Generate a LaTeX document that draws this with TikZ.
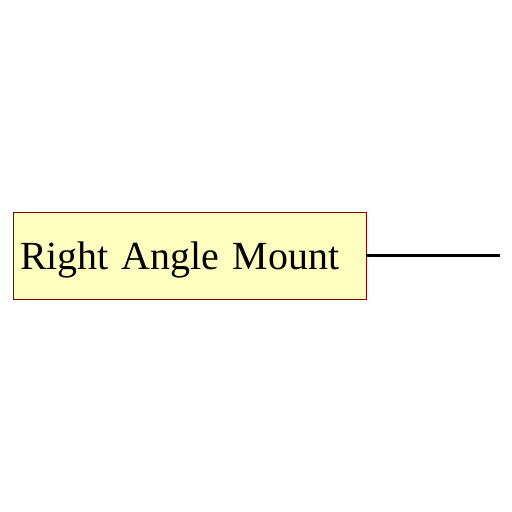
\documentclass[tikz,border=0pt]{standalone}
\usepackage{fontspec}
\setmainfont{Liberation Serif}
\definecolor{boxfill}{HTML}{FFFFC0}
\definecolor{boxline}{HTML}{800000}
\begin{document}
\begin{tikzpicture}[x=1pt,y=1pt,
  mountbox/.style={draw=boxline, fill=boxfill, line width=0.8pt, minimum width=353pt, minimum height=87pt,
    inner xsep=7pt, inner ysep=0pt, text width=339pt, align=left, text height=29pt, text depth=0pt,
    font=\fontsize{39.9}{48}\selectfont},
  wire/.style={line width=3.6pt, black}]
\useasboundingbox (0,0) rectangle (512,512);
\node[mountbox] (box) at (189.5,256.5) {Right Angle Mount};
\coordinate (end) at (500,256.5);
\draw[wire] (box.east) -- (end);
\end{tikzpicture}
\end{document}
